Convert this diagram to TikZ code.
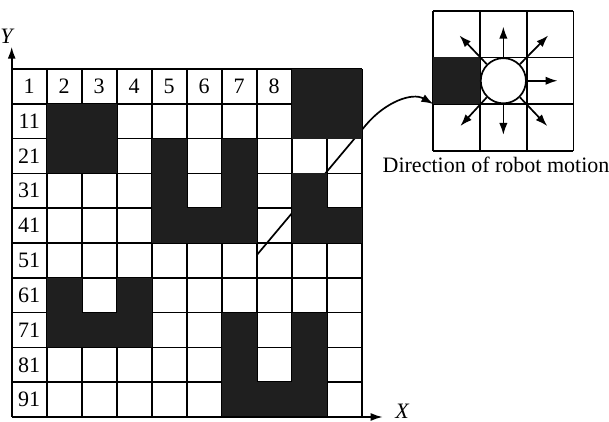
\documentclass[tikz,border=0pt]{standalone}
\usepackage{fontspec}
\setmainfont{Liberation Serif}
\usetikzlibrary{arrows.meta}
\tikzset{
  obstacle/.style={fill=black!88},
  motion/.style={-{Latex[length=6pt,width=4.2pt]}},
  axis/.style={-{Latex[length=6pt,width=4pt]}},
}
\begin{document}
\begin{tikzpicture}[x=0.5pt,y=-0.5pt,line width=0.85pt,font=\fontsize{11}{13}\selectfont]
  \useasboundingbox (0,0) rectangle (609,422);
  % robot neighbourhood: 3 x 3 cells
  \begin{scope}[shift={(433.3,10.7)},x=23.35pt,y=-23.35pt]
    \foreach \i in {0,...,3} {
      \draw (\i,0) -- (\i,3);
      \draw (0,\i) -- (3,\i);
    }
    \fill[obstacle] (0,1) rectangle (1,2);
    \coordinate (entry) at (0,2);
    \node[circle,draw,fill=white,inner sep=0pt,minimum size=22.6pt] (robot) at (1.5,1.5) {};
    % motion directions
    \draw[motion] (robot.90) -- (1.5,0.34);
    \draw[motion] (robot.0) -- (2.66,1.5);
    \draw[motion] (robot.-90) -- (1.5,2.66);
    \draw[motion] (robot.135) -- (0.56,0.53);
    \draw[motion] (robot.45) -- (2.46,0.53);
    \draw[motion] (robot.-135) -- (0.58,2.47);
    \draw[motion] (robot.-45) -- (2.44,2.47);
  \end{scope}
  \node (caption) at (496,165) {Direction of robot motion};
  % work space: 10 x 10 cells
  \begin{scope}[shift={(11.7,69)},x=17.5pt,y=-17.4pt]
    % grid lines
    \foreach \i in {0,...,10} {
      \draw (\i,0) -- (\i,10);
      \draw (0,\i) -- (10,\i);
    }
    % zoom connector
    \coordinate (trace) at (7,5.35);
    \draw[motion] (trace) -- (10.12,1.61) .. controls (10.67,0.95) and (11.44,0.66) .. (entry);
    % obstacles
    \foreach \c/\r in {9/1,10/1,2/2,3/2,9/2,10/2,2/3,3/3,5/3,7/3,5/4,7/4,9/4,
        5/5,6/5,7/5,9/5,10/5,2/7,4/7,2/8,3/8,4/8,7/8,9/8,7/9,9/9,7/10,8/10,9/10}
      \fill[obstacle] (\c-1,\r-1) rectangle (\c,\r);
    % cell numbers
    \node (n1) at (0.5,0.5) {1};
    \foreach \c in {2,...,8}
      \node (n\c) at (\c-0.5,0.5) {\c};
    \foreach \r [evaluate=\r as \lab using int(10*(\r-1)+1)] in {2,...,10}
      \node (n\lab) at (0.5,\r-0.5) {\lab};
    % axes
    \coordinate (origin) at (0,10);
    \coordinate (yend) at (0,-0.64);
    \coordinate (xend) at (10.6,10);
    \draw[axis] (origin) -- (yend);
    \draw[axis] (origin) -- (xend);
    \node[left] (ylab) at (0.3,-0.94) {\textit{Y}};
    \node[right] (xlab) at (10.75,9.85) {\textit{X}};
  \end{scope}
\end{tikzpicture}
\end{document}
